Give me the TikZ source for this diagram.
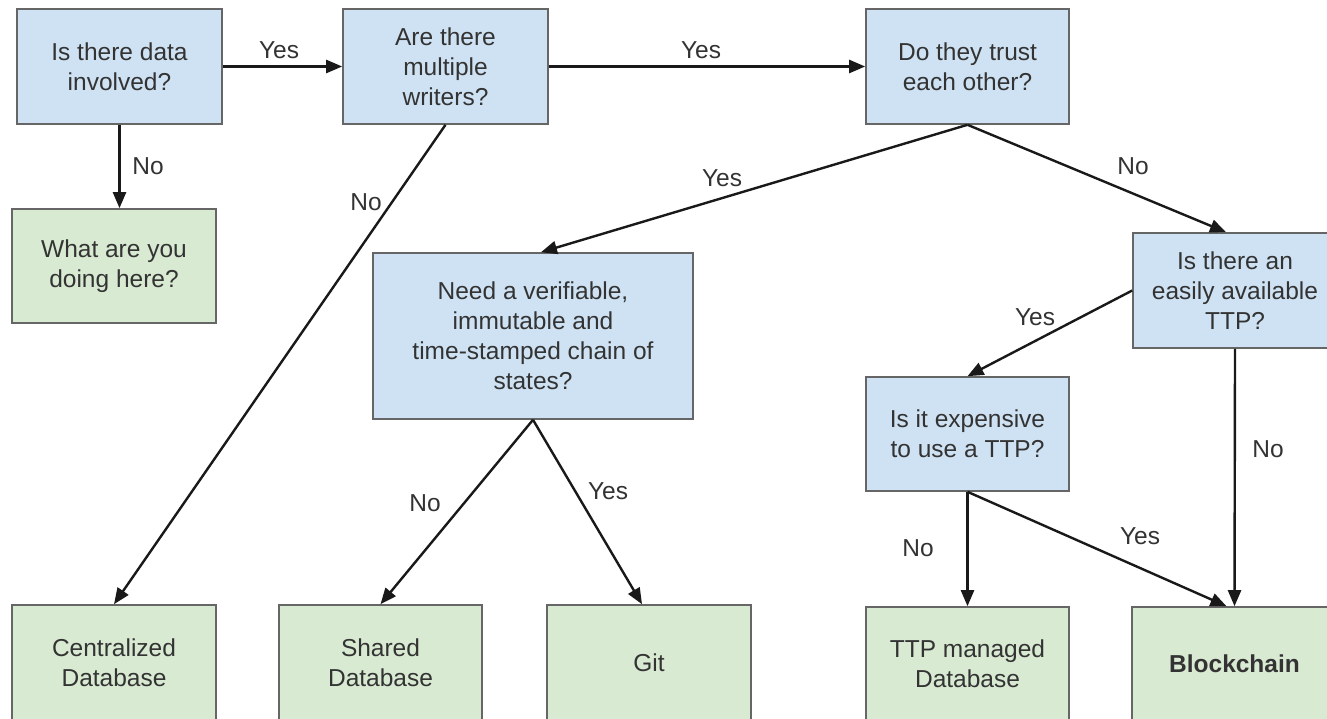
\documentclass[tikz,border=0pt]{standalone}
\usepackage{fontspec}
\setmainfont{Liberation Sans}
\usetikzlibrary{arrows.meta}
\definecolor{qblue}{HTML}{CFE2F3}
\definecolor{qgreen}{HTML}{D9EAD3}
\definecolor{qedge}{HTML}{666666}
\definecolor{qtext}{HTML}{333333}
\tikzset{
  box/.style={draw=qedge, line width=1.6pt, inner sep=0pt, align=center,
    text=qtext, font=\fontsize{24.5}{30}\selectfont},
  question/.style={box, fill=qblue},
  answer/.style={box, fill=qgreen},
  flow/.style={draw=black!90, line width=2.4pt,
    -{Triangle[length=16pt,width=13pt]}},
  lbl/.style={text=qtext, font=\fontsize{24.5}{30}\selectfont, inner sep=0pt},
}
\begin{document}
\begin{tikzpicture}[x=1pt,y=-1pt]
  \fill[white] (0,0) rectangle (1327,719);
  \useasboundingbox (0,0) rectangle (1327,719);

  % decision boxes
  \node[question, minimum width=205, minimum height=115] (data) at (119.5,66.5) {Is there data\\involved?};
  \node[question, minimum width=205, minimum height=115] (writers) at (445.5,66.5) {Are there\\multiple\\writers?};
  \node[question, minimum width=203, minimum height=115] (trust) at (967.5,66.5) {Do they trust\\each other?};
  \node[question, minimum width=320, minimum height=166] (chain) at (533,336) {Need a verifiable,\\immutable and\\time-stamped chain of\\states?};
  \node[question, minimum width=204, minimum height=115] (ttp) at (1235,290.5) {Is there an\\easily available\\TTP?};
  \node[question, minimum width=203, minimum height=114] (cost) at (967.5,434) {Is it expensive\\to use a TTP?};

  % outcome boxes
  \node[answer, minimum width=204, minimum height=114] (none) at (114,266) {What are you\\doing here?};
  \node[answer, minimum width=204, minimum height=115] (central) at (114,662.5) {Centralized\\Database};
  \node[answer, minimum width=203, minimum height=115] (shared) at (380.5,662.5) {Shared\\Database};
  \node[answer, minimum width=204, minimum height=115] (git) at (649,662.5) {Git};
  \node[answer, minimum width=203, minimum height=113] (managed) at (967.5,663.5) {TTP managed\\Database};
  \node[answer, minimum width=205, minimum height=113, font=\fontsize{24.5}{30}\selectfont\bfseries] (chainbox) at (1234.5,663.5) {Blockchain};

  % connectors
  \draw[flow] (data.east) -- (writers.west);
  \draw[flow] (data.south) -- (data.south |- none.north);
  \draw[flow] (writers.east) -- (trust.west);
  \draw[flow] (writers.south) -- (central.north);
  \draw[flow] (trust.south) -- ([xshift=8pt]chain.north);
  \draw[flow] (trust.south) -- ([xshift=-9pt]ttp.north);
  \draw[flow] (ttp.west) -- (cost.north);
  \draw[flow] (ttp.south) -- (chainbox.north);
  \draw[flow] (cost.south) -- (managed.north);
  \draw[flow] (cost.south) -- ([xshift=-8pt]chainbox.north);
  \draw[flow] (chain.south) -- (shared.north);
  \draw[flow] (chain.south) -- ([xshift=-7pt]git.north);

  % branch labels
  \node[lbl] (l1) at (279,50) {Yes};
  \node[lbl] (l2) at (148,166) {No};
  \node[lbl] (l3) at (701,50) {Yes};
  \node[lbl] (l4) at (366,202) {No};
  \node[lbl] (l5) at (722,178) {Yes};
  \node[lbl] (l6) at (1133,166) {No};
  \node[lbl] (l7) at (1035,317) {Yes};
  \node[lbl] (l8) at (1268,449) {No};
  \node[lbl] (l9) at (1140,536) {Yes};
  \node[lbl] (l10) at (918,548) {No};
  \node[lbl] (l11) at (425,503) {No};
  \node[lbl] (l12) at (608,491) {Yes};
\end{tikzpicture}
\end{document}
